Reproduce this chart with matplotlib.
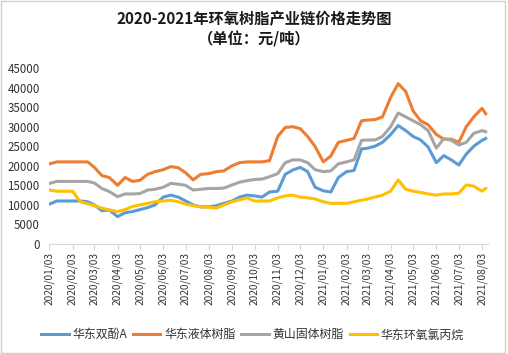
import matplotlib
matplotlib.use("Agg")
import matplotlib.pyplot as plt
import matplotlib.dates as mdates
import matplotlib.patches as patches
import pandas as pd

plt.rcParams['font.family'] = ['Noto Sans CJK SC', 'DejaVu Sans']

# sample dates: 3rd, 13th, 23rd of each month, plus the last day
months = pd.date_range("2020-01-01", "2021-08-01", freq="MS")
dates = [m + pd.Timedelta(days=d) for m in months for d in (2, 12, 22)]
dates = dates[:-2] + [pd.Timestamp("2021-08-08")]

bpa = [10200, 11000, 11000, 11000, 11000, 10800, 10000, 8500, 8700, 7000,
       8000, 8300, 8800, 9300, 10000, 12000, 12500, 12000, 11000, 10000,
       9500, 9500, 9800, 10400, 11000, 12000, 12500, 12300, 12000, 13300,
       13500, 17800, 18900, 19600, 18500, 14500, 13600, 13300, 17000, 18500,
       18800, 24300, 24500, 25000, 26000, 28000, 30300, 29000, 27500, 26600,
       24800, 20800, 22600, 21500, 20200, 23000, 25000, 26500, 27000]

liquid = [20500, 21000, 21000, 21000, 21000, 21000, 19600, 17500, 17000, 15000,
          17000, 16000, 16300, 17800, 18500, 19000, 19800, 19500, 18200, 16400,
          17800, 18000, 18500, 18700, 20000, 20800, 21000, 21000, 21000, 21300,
          27500, 29800, 30000, 29500, 27500, 24900, 21000, 22500, 26000, 26500,
          27000, 31500, 31700, 31800, 32500, 37500, 41000, 39000, 34000, 31500,
          30500, 28000, 26800, 26800, 26000, 30000, 32500, 34700, 33300]

solid = [15500, 16000, 16000, 16000, 16000, 16000, 15600, 14200, 13400, 12100,
         12800, 12800, 12900, 13800, 14000, 14500, 15500, 15300, 15000, 13800,
         14000, 14200, 14200, 14300, 15100, 15800, 16200, 16500, 16600, 17200,
         18000, 20800, 21500, 21500, 20800, 19000, 18500, 18700, 20500, 21000,
         21500, 26500, 26600, 26600, 27500, 30000, 33500, 32500, 31500, 30500,
         29000, 24500, 27000, 26500, 25300, 26000, 28300, 29000, 28700]

ech = [13800, 13500, 13500, 13500, 10800, 10300, 9800, 9200, 8700, 8300,
       8800, 9600, 10000, 10400, 10800, 11000, 11200, 10800, 10200, 9800,
       9500, 9400, 9200, 10000, 10800, 11300, 11800, 11000, 11000, 11000,
       11800, 12300, 12500, 12000, 11800, 11500, 10800, 10400, 10400, 10400,
       10800, 11200, 11500, 12000, 12500, 13500, 16400, 14000, 13500, 13200,
       12800, 12500, 12800, 12800, 13000, 15100, 14800, 13500, 14200]

names = ['华东双酚A', '华东液体树脂', '黄山固体树脂', '华东环氧氯丙烷']
colors = ['#5B9BD5', '#ED7D31', '#A5A5A5', '#FFC000']
series = [bpa, liquid, solid, ech]

fig = plt.figure(figsize=(5.08, 3.54), dpi=100)
ax = fig.add_axes([0.0974, 0.3107, 0.8632, 0.4972])

for vals, name, c in zip(series, names, colors):
    ax.plot(dates, vals, color=c, lw=2.2, label=name, solid_joinstyle='round')

ax.set_ylim(0, 45000)
ax.set_yticks(range(0, 45001, 5000))
ax.set_xlim(pd.Timestamp("2020-01-03"), pd.Timestamp("2021-08-11"))
ax.xaxis.set_major_locator(mdates.MonthLocator(bymonthday=3))
ax.xaxis.set_major_formatter(mdates.DateFormatter('%Y/%m/%d'))

for s in ['left', 'right', 'top']:
    ax.spines[s].set_visible(False)
ax.spines['bottom'].set_color('#D9D9D9')
ax.tick_params(axis='y', length=0, pad=7, labelsize=8.3, labelcolor='#333333')
ax.tick_params(axis='x', length=4, color='#D9D9D9', pad=2, labelsize=7.3,
               labelcolor='#333333', labelrotation=90)

fig.text(0.5, 0.945, '2020-2021年环氧树脂产业链价格走势图', ha='center', va='center',
         fontsize=11, fontweight='bold', color='#1a1a1a')
fig.text(0.5, 0.89, '（单位：元/吨）', ha='center', va='center',
         fontsize=11, fontweight='bold', color='#1a1a1a')

fig.legend(loc='center', bbox_to_anchor=(0.497, 0.054), ncol=4, frameon=False,
           fontsize=8.6, handlelength=2.3, handletextpad=0.3, columnspacing=0.5,
           labelcolor='#333333')

fig.patches.append(patches.Rectangle((0.002, 0.003), 0.993, 0.994, transform=fig.transFigure,
                                     fill=False, ec='#D0D0D0', lw=1))

fig.savefig('out.png', dpi=100)
